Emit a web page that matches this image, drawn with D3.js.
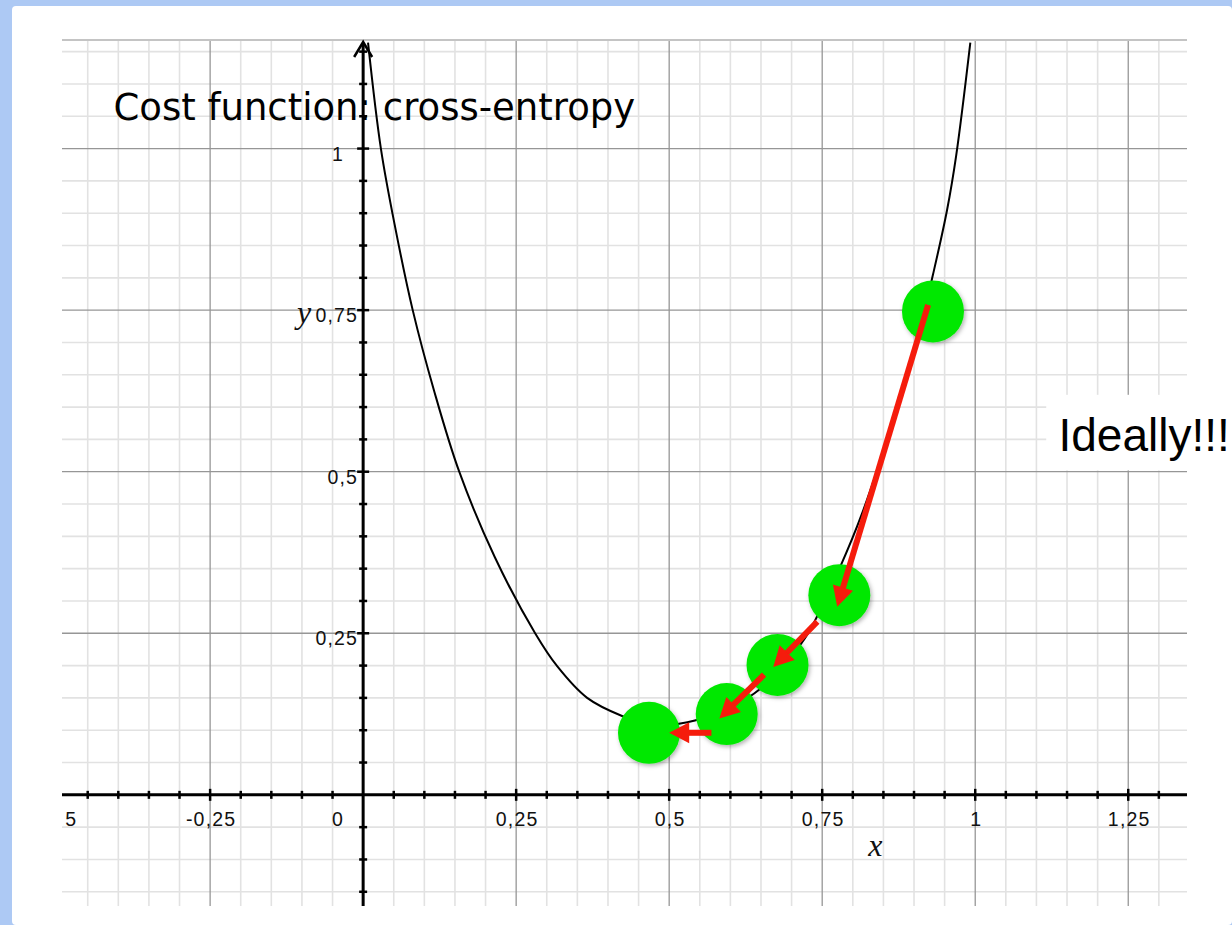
<!DOCTYPE html>
<html>
<head>
<meta charset="utf-8">
<script src="https://d3js.org/d3.v7.min.js"></script>
<style>
  body { margin: 0; background: #adc9f4; }
  svg { display: block; }
  .tickLabel { font-family: "Liberation Sans", Arial, sans-serif; font-size: 19.5px; letter-spacing: 1.2px; fill: #111; }
  .axisName { font-family: "Liberation Serif", "Times New Roman", serif; font-style: italic; font-size: 32px; fill: #111; }
  .title { font-family: "DejaVu Sans", Verdana, sans-serif; font-size: 37px; fill: #000; }
  .note { font-family: "Liberation Sans", Arial, sans-serif; font-size: 46px; fill: #000; }
</style>
</head>
<body>
<script>
(function(){

  //cost curve
  var curveX = [0.008, 0.029, 0.053, 0.081, 0.116, 0.157, 0.215, 0.281, 0.317, 0.366, 0.423, 0.475, 0.516, 0.542, 0.600, 0.650, 0.700, 0.727, 0.779, 0.815, 0.873, 0.907, 0.931, 0.954, 0.969, 0.992];
  var curveY = [1.164, 1.000, 0.875, 0.750, 0.625, 0.500, 0.368, 0.250, 0.199, 0.150, 0.122, 0.107, 0.110, 0.115, 0.135, 0.165, 0.215, 0.250, 0.352, 0.435, 0.600, 0.710, 0.805, 0.905, 0.990, 1.164];

  //gradient descent steps (green dots)
  var stepX = [0.931, 0.778, 0.677, 0.594, 0.467];
  var stepY = [0.748, 0.309, 0.201, 0.125, 0.096];

  //red arrows between steps: start -> tip
  var arrowX1 = [0.923, 0.742, 0.655, 0.569];
  var arrowY1 = [0.758, 0.268, 0.186, 0.096];
  var arrowX2 = [0.7745, 0.670, 0.582, 0.500];
  var arrowY2 = [0.291, 0.198, 0.118, 0.096];

  //tick labels
  var xTickVals = [-0.5, -0.25, 0, 0.25, 0.5, 0.75, 1, 1.25];
  var xTickText = ["-0,5", "-0,25", "0", "0,25", "0,5", "0,75", "1", "1,25"];
  var yTickVals = [0.25, 0.5, 0.75, 1];
  var yTickText = ["0,25", "0,5", "0,75", "1"];

  var titleText = "Cost function: cross-entropy";
  var noteText = "Ideally!!!";

  var width = 1232, height = 925;
  var left = 62, right = 1187, top = 40, bottom = 906;

  var svg = d3.select("body").append("svg")
    .attr("width", width)
    .attr("height", height);

  var defs = svg.append("defs");
  defs.append("clipPath").attr("id", "plotClip")
    .append("rect")
    .attr("x", left).attr("y", top)
    .attr("width", right - left).attr("height", bottom - top);
  defs.append("clipPath").attr("id", "labelClip")
    .append("rect")
    .attr("x", left + 1).attr("y", top)
    .attr("width", right - left).attr("height", bottom - top);
  var shadow = defs.append("filter").attr("id", "dotShadow")
    .attr("x", "-30%").attr("y", "-30%").attr("width", "160%").attr("height", "160%");
  shadow.append("feDropShadow")
    .attr("dx", 1.5).attr("dy", 2).attr("stdDeviation", 2)
    .attr("flood-color", "#000").attr("flood-opacity", 0.3);

  //white sheet on the blue window
  svg.append("rect")
    .attr("x", 12).attr("y", 6)
    .attr("width", width - 12).attr("height", height - 6)
    .attr("rx", 4)
    .attr("fill", "#fff");

  var x = d3.scaleLinear().domain([-0.492, 1.346]).range([left, right]);
  var y = d3.scaleLinear().domain([-0.172, 1.168]).range([bottom, top]);

  //grid lines every 0.05, darker every 0.25
  var xGrid = d3.range(-9, 27).map(function(i){ return i * 0.05; });
  var yGrid = d3.range(-3, 24).map(function(i){ return i * 0.05; });
  function isMajor(v){ return Math.abs(v / 0.25 - Math.round(v / 0.25)) < 1e-6; }

  var grid = svg.append("g").attr("class", "grid");
  grid.selectAll(".vMinor")
    .data(xGrid.filter(function(d){ return !isMajor(d); }))
    .enter().append("line")
    .attr("x1", function(d){ return x(d); }).attr("x2", function(d){ return x(d); })
    .attr("y1", top).attr("y2", bottom)
    .attr("stroke", "#e2e2e2").attr("stroke-width", 1.6);
  grid.selectAll(".hMinor")
    .data(yGrid.filter(function(d){ return !isMajor(d); }))
    .enter().append("line")
    .attr("y1", function(d){ return y(d); }).attr("y2", function(d){ return y(d); })
    .attr("x1", left).attr("x2", right)
    .attr("stroke", "#e2e2e2").attr("stroke-width", 1.6);
  grid.selectAll(".vMajor")
    .data(xGrid.filter(function(d){ return isMajor(d) && Math.abs(d) > 1e-6; }))
    .enter().append("line")
    .attr("x1", function(d){ return x(d); }).attr("x2", function(d){ return x(d); })
    .attr("y1", top).attr("y2", bottom)
    .attr("stroke", "#969696").attr("stroke-width", 1.3);
  grid.selectAll(".hMajor")
    .data(yGrid.filter(function(d){ return isMajor(d) && Math.abs(d) > 1e-6; }))
    .enter().append("line")
    .attr("y1", function(d){ return y(d); }).attr("y2", function(d){ return y(d); })
    .attr("x1", left).attr("x2", right)
    .attr("stroke", "#969696").attr("stroke-width", 1.3);
  //top border line
  grid.append("line")
    .attr("x1", left).attr("x2", right)
    .attr("y1", top).attr("y2", top)
    .attr("stroke", "#c4c4c4").attr("stroke-width", 2);

  //"Ideally!!!" sits on its own white box
  svg.append("rect")
    .attr("x", x(1.116)).attr("y", y(0.619))
    .attr("width", width - x(1.116)).attr("height", y(0.502) - y(0.619))
    .attr("fill", "#fff");
  svg.append("text")
    .attr("class", "note")
    .attr("x", x(1.136)).attr("y", y(0.532))
    .text(noteText);

  //title, drawn under the y axis
  svg.append("text")
    .attr("class", "title")
    .attr("x", x(-0.408)).attr("y", y(1.044))
    .text(titleText);

  //the cost curve
  var curveData = curveX.map(function(d, i){ return [d, curveY[i]]; });
  var line = d3.line()
    .x(function(d){ return x(d[0]); })
    .y(function(d){ return y(d[1]); })
    .curve(d3.curveCatmullRom.alpha(0.5));
  svg.append("path")
    .datum(curveData)
    .attr("clip-path", "url(#plotClip)")
    .attr("d", line)
    .attr("fill", "none")
    .attr("stroke", "#000")
    .attr("stroke-width", 2);

  //axes
  var axes = svg.append("g").attr("class", "axes");
  axes.append("line")
    .attr("x1", left).attr("x2", right)
    .attr("y1", y(0)).attr("y2", y(0))
    .attr("stroke", "#000").attr("stroke-width", 3);
  axes.append("line")
    .attr("x1", x(0)).attr("x2", x(0))
    .attr("y1", bottom).attr("y2", top + 3)
    .attr("stroke", "#000").attr("stroke-width", 3);
  axes.append("path")
    .attr("d", "M" + (x(0) - 9) + "," + (top + 17) + "L" + x(0) + "," + (top + 2) + "L" + (x(0) + 9) + "," + (top + 17))
    .attr("fill", "none").attr("stroke", "#000").attr("stroke-width", 2.5);

  axes.selectAll(".xTick")
    .data(xGrid.filter(function(d){ return Math.abs(d) > 1e-6; }))
    .enter().append("line")
    .attr("x1", function(d){ return x(d); }).attr("x2", function(d){ return x(d); })
    .attr("y1", function(d){ return y(0) - (isMajor(d) ? 6 : 4); })
    .attr("y2", function(d){ return y(0) + (isMajor(d) ? 6 : 4); })
    .attr("stroke", "#000").attr("stroke-width", 2.5);
  axes.selectAll(".yTick")
    .data(yGrid.filter(function(d){ return Math.abs(d) > 1e-6; }))
    .enter().append("line")
    .attr("y1", function(d){ return y(d); }).attr("y2", function(d){ return y(d); })
    .attr("x1", function(d){ return x(0) - (isMajor(d) ? 6 : 4); })
    .attr("x2", function(d){ return x(0) + (isMajor(d) ? 6 : 4); })
    .attr("stroke", "#000").attr("stroke-width", 2.5);

  //tick labels (the -0,5 label is cut by the plot edge)
  svg.append("g").attr("clip-path", "url(#labelClip)")
    .selectAll(".xLabel")
    .data(xTickVals)
    .enter().append("text")
    .attr("class", "tickLabel")
    .attr("x", function(d){ return d === 0 ? x(0) - 19 : x(d) + 1; })
    .attr("y", y(0) + 31)
    .attr("text-anchor", function(d){ return d === 0 ? "end" : "middle"; })
    .text(function(d, i){ return xTickText[i]; });
  svg.selectAll(".yLabel")
    .data(yTickVals)
    .enter().append("text")
    .attr("class", "tickLabel")
    .attr("x", function(d){ return d === 1 ? x(0) - 19 : x(0) - 5; })
    .attr("y", function(d){ return y(d) + 12; })
    .attr("text-anchor", "end")
    .text(function(d, i){ return yTickText[i]; });

  svg.append("text").attr("class", "axisName")
    .attr("x", x(0.837)).attr("y", y(-0.095))
    .attr("text-anchor", "middle")
    .text("x");
  svg.append("text").attr("class", "axisName")
    .attr("x", x(-0.085)).attr("y", y(0.73))
    .attr("text-anchor", "end")
    .text("y");

  //green steps
  svg.selectAll(".step")
    .data(stepX)
    .enter().append("circle")
    .attr("class", "step")
    .attr("cx", function(d){ return x(d); })
    .attr("cy", function(d, i){ return y(stepY[i]); })
    .attr("r", 31)
    .attr("fill", "#04e804")
    .attr("filter", "url(#dotShadow)");

  //red arrows: shaft plus triangle head
  var headLen = 20, headHalf = 10.5;
  var arrows = svg.append("g").attr("class", "arrows");
  arrowX1.forEach(function(d, i){
    var sx = x(d), sy = y(arrowY1[i]),
        tx = x(arrowX2[i]), ty = y(arrowY2[i]);
    var dx = tx - sx, dy = ty - sy, len = Math.sqrt(dx * dx + dy * dy);
    var ux = dx / len, uy = dy / len;
    var bx = tx - ux * headLen, by = ty - uy * headLen;
    arrows.append("line")
      .attr("x1", sx).attr("y1", sy)
      .attr("x2", bx + ux * 2).attr("y2", by + uy * 2)
      .attr("stroke", "#f51c0c").attr("stroke-width", 6);
    arrows.append("path")
      .attr("d", "M" + tx + "," + ty +
        "L" + (bx - uy * headHalf) + "," + (by + ux * headHalf) +
        "L" + (bx + uy * headHalf) + "," + (by - ux * headHalf) + "Z")
      .attr("fill", "#f51c0c");
  });

})();
</script>
</body>
</html>
